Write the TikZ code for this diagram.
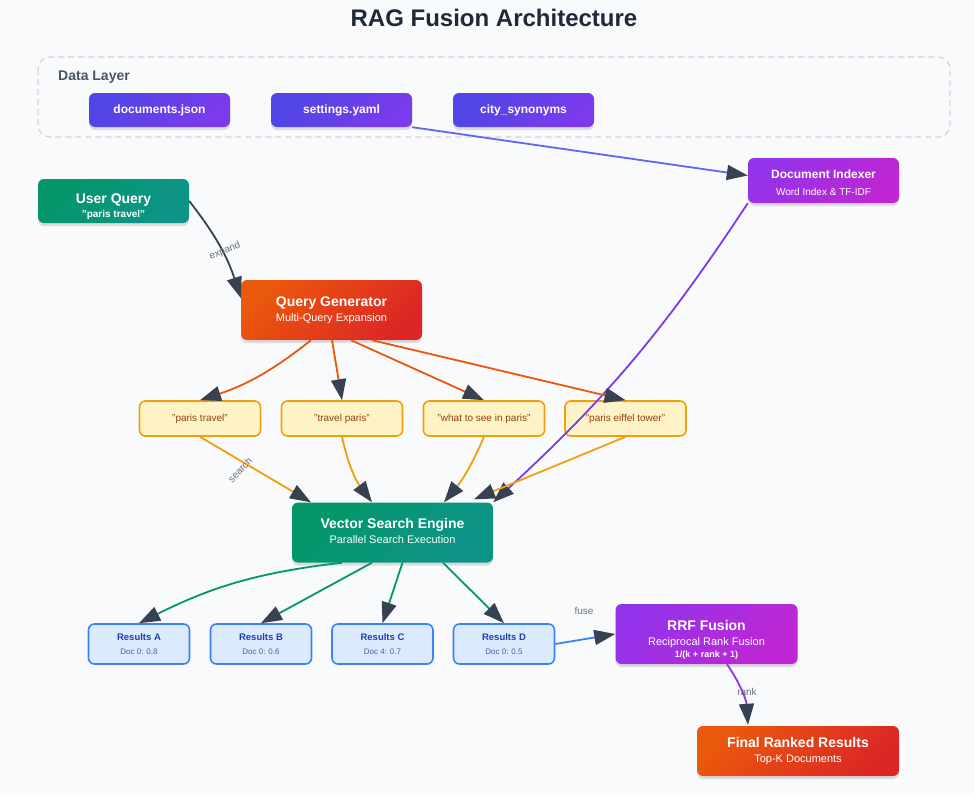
\documentclass[tikz,border=0pt]{standalone}
\usepackage{fontspec}
\setmainfont{Liberation Sans}
\usetikzlibrary{arrows.meta,shadows}
\definecolor{bg}{HTML}{F8FAFC}
\definecolor{titlec}{HTML}{1F2937}
\definecolor{layerc}{HTML}{D1D5DB}
\definecolor{layertext}{HTML}{4B5563}
\definecolor{indA}{HTML}{4F46E5}
\definecolor{indB}{HTML}{7C3AED}
\definecolor{purA}{HTML}{9333EA}
\definecolor{purB}{HTML}{C026D3}
\definecolor{grnA}{HTML}{059669}
\definecolor{grnB}{HTML}{0D9488}
\definecolor{orgA}{HTML}{EA580C}
\definecolor{orgB}{HTML}{DC2626}
\definecolor{qfill}{HTML}{FEF3C7}
\definecolor{qborder}{HTML}{F59E0B}
\definecolor{qtext}{HTML}{92400E}
\definecolor{rfill}{HTML}{DBEAFE}
\definecolor{rborder}{HTML}{3B82F6}
\definecolor{rtext}{HTML}{1E40AF}
\definecolor{rsub}{HTML}{4B5BB0}
\definecolor{headc}{HTML}{374151}
\definecolor{lblc}{HTML}{6B7280}
\definecolor{lineblue}{HTML}{6366F1}
\definecolor{linepurple}{HTML}{7C3AED}
\definecolor{linepurple2}{HTML}{9333EA}
\newcommand\myfs[2]{\fontsize{#1}{#2}\selectfont}
\begin{document}
\begin{tikzpicture}[x=1pt,y=-1pt,
  box/.style={rounded corners=6pt, inner sep=0pt, align=center, text=white,
    drop shadow={shadow xshift=0pt,shadow yshift=-3pt,opacity=0.12,fill=black}},
  grad/.style 2 args={top color=#1,bottom color=#2,shading angle=45},
  databox/.style={box, grad={indA}{indB}, minimum width=141pt, minimum height=34pt, font=\myfs{12}{14}\bfseries},
  qbox/.style={rounded corners=6pt, inner sep=0pt, align=center, fill=qfill, draw=qborder, line width=1.6pt,
    text=qtext, minimum width=121pt, minimum height=35pt, font=\myfs{10}{12}},
  rbox/.style={rounded corners=6pt, inner sep=0pt, align=center, fill=rfill, draw=rborder, line width=1.6pt,
    minimum width=101pt, minimum height=40pt},
  conn/.style={line width=1.8pt, -{Triangle[length=21pt,width=15pt,color=headc,fill=headc]}},
  lbl/.style={text=lblc, font=\myfs{10}{12}, inner sep=0pt}
]
\fill[bg, use as bounding box] (0,0) rectangle (974,795);

% title
\node[text=titlec, font=\myfs{24}{28}\bfseries] (title) at (494,18) {RAG Fusion Architecture};

% data layer
\draw[layerc, line width=1.2pt, dash pattern=on 6pt off 4pt, rounded corners=12pt, fill=bg] (38,57) rectangle (950,137);
\node[anchor=west, text=layertext, font=\myfs{14}{16}\bfseries, inner sep=0pt] (dl) at (58,77) {Data Layer};
\node[databox] (docs) at (159.5,110) {documents.json};
\node[databox] (settings) at (341.5,110) {settings.yaml};
\node[databox] (city) at (523.5,110) {city\_synonyms};

% main nodes
\node[box, grad={purA}{purB}, minimum width=151pt, minimum height=45pt] (di) at (823.5,180.5)
  {{\myfs{12}{14}\bfseries\rule{0pt}{13pt}Document Indexer}\\[5pt]{\myfs{10}{12}Word Index \& TF-IDF}};
\node[box, grad={grnA}{grnB}, minimum width=151pt, minimum height=44pt] (uq) at (113.5,201)
  {{\myfs{14}{16}\bfseries\rule{0pt}{22pt}User Query}\\[2pt]{\myfs{10}{12}\bfseries "paris travel"}};
\node[box, grad={orgA}{orgB}, minimum width=181pt, minimum height=60pt] (qg) at (331.5,310)
  {{\myfs{14}{16}\bfseries Query Generator}\\[3pt]{\myfs{11}{13}Multi-Query Expansion}};

\node[qbox] (q1) at (200,418.5) {"paris travel"};
\node[qbox] (q2) at (342,418.5) {"travel paris"};
\node[qbox] (q3) at (484,418.5) {"what to see in paris"};
\node[qbox] (q4) at (625.5,418.5) {"paris eiffel tower"};

\node[box, grad={grnA}{grnB}, minimum width=201pt, minimum height=60pt] (vse) at (392.5,532.5)
  {{\myfs{14}{16}\bfseries Vector Search Engine}\\[3pt]{\myfs{11}{13}Parallel Search Execution\rule[-4pt]{0pt}{0pt}}};

\node[rbox] (ra) at (139,644) {{\myfs{9.5}{11}\bfseries\color{rtext} Results A}\\[2pt]{\myfs{8}{10}\color{rsub} Doc 0: 0.8}};
\node[rbox] (rb) at (261,644) {{\myfs{9.5}{11}\bfseries\color{rtext} Results B}\\[2pt]{\myfs{8}{10}\color{rsub} Doc 0: 0.6}};
\node[rbox] (rc) at (382.5,644) {{\myfs{9.5}{11}\bfseries\color{rtext} Results C}\\[2pt]{\myfs{8}{10}\color{rsub} Doc 4: 0.7}};
\node[rbox] (rd) at (504,644) {{\myfs{9.5}{11}\bfseries\color{rtext} Results D}\\[2pt]{\myfs{8}{10}\color{rsub} Doc 0: 0.5}};

\node[box, grad={purA}{purB}, minimum width=182pt, minimum height=60pt] (rrf) at (706.5,634)
  {{\myfs{14}{16}\bfseries\rule{0pt}{22pt}RRF Fusion}\\[3pt]{\myfs{11}{13}Reciprocal Rank Fusion}\\{\myfs{9}{11}\bfseries 1/(k + rank + 1)}};
\node[box, grad={orgA}{orgB}, minimum width=202pt, minimum height=50pt] (final) at (798,751)
  {{\myfs{14}{16}\bfseries Final Ranked Results}\\[3pt]{\myfs{11}{13}Top-K Documents}};

% connectors
\draw[conn, lineblue] (settings.south east) -- ([yshift=5pt]di.west);
\draw[conn, linepurple] (di.south west) to[bend left=7] (vse.north east);
\draw[conn, headc] (uq.east) to[bend left=10] ([yshift=12pt]qg.west);

\draw[conn, orgA] ([xshift=-20.5pt]qg.south) to[bend left=10] (q1.north);
\draw[conn, orgA] ([xshift=0.5pt]qg.south) -- (q2.north);
\draw[conn, orgA] ([xshift=19.5pt]qg.south) -- (q3.north);
\draw[conn, orgA] ([xshift=40.5pt]qg.south) -- (q4.north);

\draw[conn, qborder] (q1.south) -- ([xshift=-81.5pt]vse.north);
\draw[conn, qborder] (q2.south) to[bend right=12] ([xshift=-20.5pt]vse.north);
\draw[conn, qborder] (q3.south) to[bend left=8] ([xshift=51.5pt]vse.north);
\draw[conn, qborder] (q4.south) -- ([xshift=81.5pt,yshift=3pt]vse.north);

\draw[conn, grnA] ([xshift=-50.5pt]vse.south) to[bend right=10] (ra.north);
\draw[conn, grnA] ([xshift=-20.5pt]vse.south) -- (rb.north);
\draw[conn, grnA] ([xshift=10pt]vse.south) -- (rc.north);
\draw[conn, grnA] ([xshift=50.5pt]vse.south) -- (rd.north);

\draw[conn, rborder] (rd.east) -- (rrf.west);
\draw[conn, linepurple2] ([xshift=20.5pt]rrf.south) to[bend left=15] ([xshift=-50pt,yshift=1pt]final.north);

% labels
\node[lbl, rotate=23] (lexpand) at (225,251) {expand};
\node[lbl, rotate=47] (lsearch) at (240,470) {search};
\node[lbl] (lfuse) at (584,611) {fuse};
\node[lbl] (lrank) at (747,692) {rank};
\end{tikzpicture}
\end{document}
